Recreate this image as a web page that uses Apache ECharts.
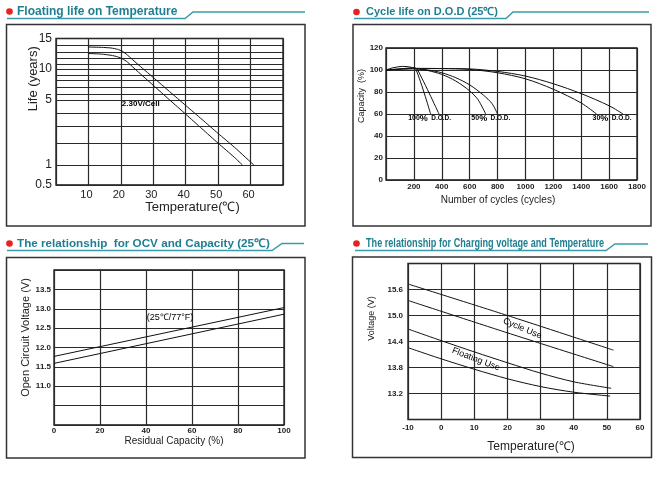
<!DOCTYPE html>
<html>
<head>
<meta charset="utf-8">
<script src="https://cdn.jsdelivr.net/npm/echarts@6/dist/echarts.min.js"></script>
<style>
html,body{margin:0;padding:0;background:#fff;}
#chart{width:666px;height:492px;}
</style>
</head>
<body>
<div id="chart"></div>
<script>
// ---- Floating life on Temperature ----
const lifeUpper = [[10,13.8],[14,13.75],[17,13.65],[19,13.45],[20.5,13.15],[22,12.55],[25,11.06],[30,8.56],[35,6.37],[40,4.58],[45,3.51],[50,2.56],[55,1.81],[61,1.0]];
const lifeLower = [[10,12.8],[14,12.7],[17,12.5],[19,12.25],[20.5,11.9],[22,11.36],[25,9.68],[30,7.3],[35,5.03],[40,3.91],[45,2.84],[50,1.99],[55,1.35],[57.5,1.0]];
const lifeLabelYears = [0.5, 1, 5, 10, 15];
// the printed paper is not a true log scale: grid years and their height fraction
const lifeGridYears = [0.5, 1, 2, 3, 4, 5, 6, 7, 8, 9, 10, 11, 12, 13, 14, 15];
const lifeGridFrac = [0, 0.1365, 0.2867, 0.4027, 0.4915, 0.5802, 0.6212, 0.6669, 0.7119, 0.7509, 0.7918, 0.8259, 0.8648, 0.9058, 0.9509, 1];

// ---- Cycle life on D.O.D ----
const dod100a = [[0,100],[50,102],[120,103.3],[180,102.5],[215,100.5],[320,60]];
const dod100b = [[0,100],[100,101],[200,102],[225,100.5],[380,60]];
const dod50a = [[200,101.5],[300,99.5],[400,96],[500,90],[600,81],[660,73],[715,60]];
const dod50b = [[200,101.5],[300,100],[400,97.5],[500,93],[600,86.5],[700,77],[760,69.5],[800,60]];
const dod30a = [[0,100],[200,101.5],[400,101.3],[600,100.5],[800,97.5],[1000,92],[1200,82.5],[1400,70],[1510,60]];
const dod30b = [[0,100],[200,101],[400,101.3],[600,101],[800,98.7],[1000,94.5],[1200,87.5],[1400,78.5],[1600,67.5],[1700,60]];
const dodTags = [[159,56,'100'],[612,56,'50'],[1481,56,'30']];

// ---- OCV and Capacity ----
const ocvUpper = [[0,11.77],[100,13.03]];
const ocvLower = [[0,11.59],[100,12.86]];
const ocvTag = [40.3, 12.78];

// ---- Charging voltage and Temperature ----
const cycUpper = [[-9.7,15.72],[20,15.0],[52,14.2]];
const cycLower = [[-9.7,15.34],[20,14.6],[52,13.82]];
const fltUpper = [[-9.7,14.68],[0,14.42],[10,14.16],[20,13.91],[30,13.67],[40,13.47],[51.3,13.32]];
const fltLower = [[-9.7,14.25],[0,14.0],[10,13.76],[20,13.54],[30,13.36],[40,13.23],[51,13.14]];
const cycTag = [24.5, 14.7];
const fltTag = [10.5, 13.99];

const SANS = '"Liberation Sans", Arial, sans-serif';
const TEAL = '#1f7f92';
const LINE = '#3a9aaa';
const GRID = '#2a2a2a';

function lifeToAxis(y) {
  for (let i = 0; i < lifeGridYears.length - 1; i++) {
    const a = lifeGridYears[i], b = lifeGridYears[i + 1];
    if (y <= b) return lifeGridFrac[i] + (y - a) / (b - a) * (lifeGridFrac[i + 1] - lifeGridFrac[i]);
  }
  return 1;
}

function curve(idx, data, smooth) {
  return {
    type: 'line', xAxisIndex: idx, yAxisIndex: idx, data,
    symbol: 'none', smooth: smooth || false, silent: true,
    lineStyle: { color: '#111', width: 1 }
  };
}

function tag(idx, pos, text, opts) {
  return {
    type: 'scatter', xAxisIndex: idx, yAxisIndex: idx, silent: true,
    data: [pos], symbolSize: 0, itemStyle: { color: '#000', opacity: 1 },
    label: Object.assign({ show: true, formatter: text, color: '#000', opacity: 1,
      textBorderWidth: 0, fontFamily: SANS }, opts)
  };
}

const splitLine = { show: true, lineStyle: { color: GRID, width: 1.2 } };
const gridBox = { show: true, borderColor: '#111', borderWidth: 1.3, backgroundColor: 'transparent' };
const smallLabel = { color: '#222', fontSize: 8, fontWeight: 'bold', fontFamily: SANS };

const lifeLabelFrac = lifeLabelYears.map(lifeToAxis);

const chart = echarts.init(document.getElementById('chart'));
chart.setOption({
  animation: false,
  backgroundColor: '#fff',
  textStyle: { fontFamily: SANS },
  grid: [
    Object.assign({ left: 56, top: 38.5, width: 227, height: 146.5 }, gridBox),
    Object.assign({ left: 386, top: 48, width: 251, height: 132 }, gridBox),
    Object.assign({ left: 54, top: 270, width: 230, height: 155 }, gridBox),
    Object.assign({ left: 408, top: 263.5, width: 232, height: 156 }, gridBox)
  ],
  xAxis: [
    {
      gridIndex: 0, type: 'value', min: 0, max: 70, interval: 10,
      axisLine: { show: false }, axisTick: { show: false }, splitLine,
      axisLabel: { color: '#222', fontSize: 11, margin: 4, padding: [0, 4, 0, 0],
        formatter: v => (v === 0 || v === 70) ? '' : v },
      name: 'Temperature(℃)', nameLocation: 'middle', nameGap: 15,
      nameTextStyle: { color: '#222', fontSize: 13, padding: [0, 0, 0, 46] }
    },
    {
      gridIndex: 1, type: 'value', min: 0, max: 1800, interval: 200,
      axisLine: { show: false }, axisTick: { show: false }, splitLine,
      axisLabel: Object.assign({ margin: 3, formatter: v => v === 0 ? '' : v }, smallLabel),
      name: 'Number of cycles (cycles)', nameLocation: 'middle', nameGap: 15,
      nameTextStyle: { color: '#222', fontSize: 10, padding: [0, 27, 0, 0] }
    },
    {
      gridIndex: 2, type: 'value', min: 0, max: 100, interval: 20,
      axisLine: { show: false }, axisTick: { show: false }, splitLine,
      axisLabel: Object.assign({ margin: 2 }, smallLabel),
      name: 'Residual Capacity (%)', nameLocation: 'middle', nameGap: 11,
      nameTextStyle: { color: '#222', fontSize: 10, padding: [0, 0, 0, 10] }
    },
    {
      gridIndex: 3, type: 'value', min: -10, max: 60, interval: 10,
      axisLine: { show: false }, axisTick: { show: false }, splitLine,
      axisLabel: Object.assign({ margin: 4 }, smallLabel),
      name: 'Temperature(℃)', nameLocation: 'middle', nameGap: 21,
      nameTextStyle: { color: '#222', fontSize: 12, padding: [0, 0, 0, 14] }
    }
  ],
  yAxis: [
    {
      gridIndex: 0, type: 'value', min: 0, max: 1,
      axisLine: { show: false },
      axisTick: { show: false, customValues: lifeGridFrac }, splitLine,
      axisLabel: { color: '#222', fontSize: 12, margin: 4,
        customValues: lifeLabelFrac,
        formatter: v => {
          const i = lifeLabelFrac.findIndex(f => Math.abs(f - v) < 1e-6);
          return i < 0 ? '' : String(lifeLabelYears[i]);
        } },
      name: 'Life (years)', nameLocation: 'middle', nameGap: 16, nameMoveOverlap: false,
      nameTextStyle: { color: '#222', fontSize: 13, padding: [0, 0, 0, 66] }
    },
    {
      gridIndex: 1, type: 'value', min: 0, max: 120, interval: 20,
      axisLine: { show: false }, axisTick: { show: false }, splitLine,
      axisLabel: Object.assign({ margin: 3 }, smallLabel),
      name: 'Capacity  (%)', nameLocation: 'middle', nameGap: 18,
      nameTextStyle: { color: '#222', fontSize: 9, padding: [0, 0, 0, 36] }
    },
    {
      gridIndex: 2, type: 'value', min: 10, max: 14, interval: 0.5,
      axisLine: { show: false }, axisTick: { show: false }, splitLine,
      axisLabel: Object.assign({ margin: 3,
        formatter: v => (v < 11 || v > 13.5) ? '' : v.toFixed(1) }, smallLabel),
      name: 'Open Circuit Voltage (V)', nameLocation: 'middle', nameGap: 23,
      nameTextStyle: { color: '#222', fontSize: 11, padding: [0, 0, 0, 20] }
    },
    {
      gridIndex: 3, type: 'value', min: 12.6, max: 16.2, interval: 0.6,
      axisLine: { show: false }, axisTick: { show: false }, splitLine,
      axisLabel: Object.assign({ margin: 5,
        formatter: v => (v < 13 || v > 16) ? '' : v.toFixed(1) }, smallLabel),
      name: 'Voltage (V)', nameLocation: 'middle', nameGap: 32,
      nameTextStyle: { color: '#222', fontSize: 9, padding: [0, 0, 0, 46] }
    }
  ],
  series: [
    curve(0, lifeUpper.map(p => [p[0], lifeToAxis(p[1])]), 0.2),
    curve(0, lifeLower.map(p => [p[0], lifeToAxis(p[1])]), 0.2),
    tag(0, [20.3, lifeToAxis(4.67)], '2.30V/Cell', { position: 'right', distance: 0, fontSize: 8, fontWeight: 'bold' }),

    curve(1, dod100a, 0.3), curve(1, dod100b, 0.3),
    curve(1, dod50a, 0.3), curve(1, dod50b, 0.3),
    curve(1, dod30a, 0.3), curve(1, dod30b, 0.3),
    ...dodTags.map(t => tag(1, [t[0], t[1]], '{n|' + t[2] + '}{p|%} {d|D.O.D.}', {
      position: 'right', distance: 0,
      rich: {
        n: { fontSize: 7, color: '#000', fontWeight: 'bold' },
        p: { fontSize: 9, color: '#000', fontWeight: 'bold' },
        d: { fontSize: 6.5, color: '#000', fontWeight: 'bold' }
      }
    })),

    curve(2, ocvUpper), curve(2, ocvLower),
    tag(2, ocvTag, '(25℃/77°F)', { position: 'right', distance: 0, fontSize: 9 }),

    curve(3, cycUpper, 0.3), curve(3, cycLower, 0.3),
    curve(3, fltUpper, 0.3), curve(3, fltLower, 0.3),
    tag(3, cycTag, 'Cycle Use', { position: 'inside', rotate: -23, fontSize: 9 }),
    tag(3, fltTag, 'Floating Use', { position: 'inside', rotate: -21, fontSize: 9 })
  ],
  graphic: [
    // frames round each panel
    { type: 'rect', shape: { x: 6.5, y: 24.5, width: 298.5, height: 201.5 }, style: { fill: null, stroke: '#333', lineWidth: 1.5 } },
    { type: 'rect', shape: { x: 353, y: 24.5, width: 298, height: 201.5 }, style: { fill: null, stroke: '#333', lineWidth: 1.5 } },
    { type: 'rect', shape: { x: 6.5, y: 257.5, width: 298.5, height: 200.5 }, style: { fill: null, stroke: '#333', lineWidth: 1.5 } },
    { type: 'rect', shape: { x: 352.5, y: 257, width: 299, height: 200.5 }, style: { fill: null, stroke: '#333', lineWidth: 1.5 } },
    // title underlines
    { type: 'polyline', shape: { points: [[7, 18.5], [185, 18.5], [193, 12], [305, 12]] }, style: { stroke: LINE, lineWidth: 1.5, fill: null } },
    { type: 'polyline', shape: { points: [[354, 18.5], [506, 18.5], [513, 12], [649, 12]] }, style: { stroke: LINE, lineWidth: 1.5, fill: null } },
    { type: 'polyline', shape: { points: [[7, 250.5], [272, 250.5], [282, 243.5], [304, 243.5]] }, style: { stroke: LINE, lineWidth: 1.5, fill: null } },
    { type: 'polyline', shape: { points: [[355, 250.5], [606, 250.5], [615, 244], [648, 244]] }, style: { stroke: LINE, lineWidth: 1.5, fill: null } },
    // red bullets
    { type: 'circle', shape: { cx: 9.5, cy: 11.5, r: 3.3 }, style: { fill: '#e8211e' } },
    { type: 'circle', shape: { cx: 356.5, cy: 12, r: 3.3 }, style: { fill: '#e8211e' } },
    { type: 'circle', shape: { cx: 9.5, cy: 243.5, r: 3.3 }, style: { fill: '#e8211e' } },
    { type: 'circle', shape: { cx: 356.5, cy: 243.5, r: 3.3 }, style: { fill: '#e8211e' } },
    // titles
    { type: 'text', x: 17, y: 11.5, style: { text: 'Floating life on Temperature', fill: TEAL, font: 'bold 12px ' + SANS, verticalAlign: 'middle' } },
    { type: 'text', x: 366, y: 12, style: { text: 'Cycle life on D.O.D (25℃)', fill: TEAL, font: 'bold 11px ' + SANS, verticalAlign: 'middle' } },
    { type: 'text', x: 17, y: 243.5, style: { text: 'The relationship  for OCV and Capacity (25℃)', fill: TEAL, font: 'bold 11.7px ' + SANS, verticalAlign: 'middle' } },
    { type: 'text', x: 366, y: 243.5, scaleX: 0.76, style: { text: 'The relationship for Charging voltage and Temperature', fill: TEAL, font: 'bold 12px ' + SANS, verticalAlign: 'middle' } }
  ]
});
</script>
</body>
</html>
